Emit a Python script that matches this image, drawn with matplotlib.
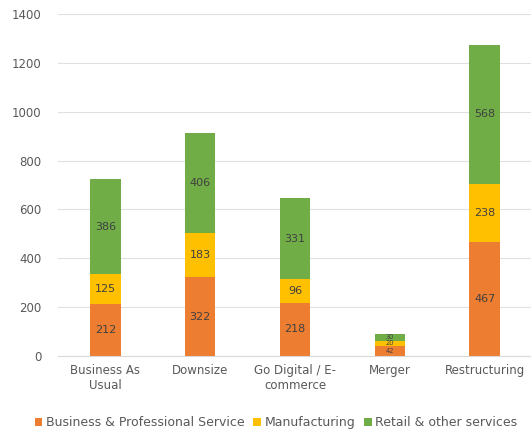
import numpy as np
import matplotlib.pyplot as plt

categories = ['Business As\nUsual', 'Downsize', 'Go Digital / E-\ncommerce', 'Merger', 'Restructuring']
business = [212, 322, 218, 42, 467]
manufacturing = [125, 183, 96, 20, 238]
retail = [386, 406, 331, 30, 568]

series = [('Business & Professional Service', business, '#ED7D31'),
          ('Manufacturing', manufacturing, '#FFC000'),
          ('Retail & other services', retail, '#70AD47')]

fig = plt.figure(figsize=(5.31, 4.36), dpi=100)
ax = fig.add_axes([58/531, 80/436, 474/531, 342/436])

x = np.arange(len(categories))
bottom = np.zeros(len(categories))
for name, vals, col in series:
    vals = np.array(vals, dtype=float)
    ax.bar(x, vals, 0.32, bottom=bottom, color=col, label=name, zorder=2)
    for xi, b, v in zip(x, bottom, vals):
        # thin segments get smaller labels
        fs = 4.8 if v < 50 else 8
        ax.text(xi, b + v / 2, str(int(v)), ha='center', va='center',
                fontsize=fs, color='#404040', zorder=3)
    bottom += vals

ax.set_xlim(-0.5, len(categories) - 0.5)
ax.set_ylim(0, 1400)
ax.set_yticks(range(0, 1401, 200))
ax.yaxis.grid(True, color='#E0E0E0', linewidth=0.8, zorder=0)
ax.set_xticks(x)
ax.set_xticklabels(categories, fontsize=8.5, color='#595959')
ax.tick_params(axis='y', labelsize=8.5, labelcolor='#595959', length=0, pad=12)
ax.tick_params(axis='x', length=0, pad=6)
for s in ['top', 'right', 'left']:
    ax.spines[s].set_visible(False)
ax.spines['bottom'].set_color('#D9D9D9')

fig.legend(loc='lower center', bbox_to_anchor=(0.52, -0.01), ncol=3, frameon=False,
           fontsize=9, handlelength=0.6, handleheight=0.6, handletextpad=0.3,
           columnspacing=0.7, labelcolor='#595959')

fig.savefig('out.png', dpi=100)
